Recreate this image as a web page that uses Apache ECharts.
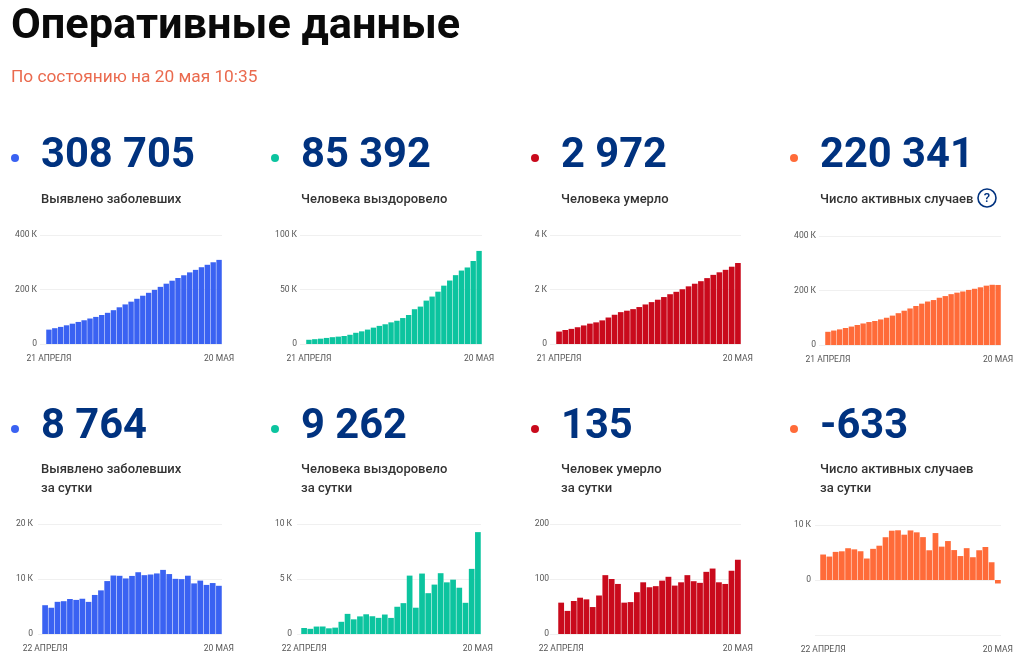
<!DOCTYPE html>
<html>
<head>
<meta charset="utf-8">
<script src="https://cdn.jsdelivr.net/npm/echarts@6/dist/echarts.min.js"></script>
<style>
  html, body { margin: 0; padding: 0; background: #fff; }
  #chart { width: 1024px; height: 664px; }
</style>
</head>
<body>
<div id="chart"></div>
<script>
const pageTitle = 'Оперативные данные'
const pageSubtitle = 'По состоянию на 20 мая 10:35'

const totalDays = ['21 АПРЕЛЯ','22','23','24','25','26','27','28','29','30','1','2','3','4','5','6','7','8','9','10','11','12','13','14','15','16','17','18','19','20 МАЯ']
const dailyDays = ['22 АПРЕЛЯ','23','24','25','26','27','28','29','30','1','2','3','4','5','6','7','8','9','10','11','12','13','14','15','16','17','18','19','20 МАЯ']

const totalCases = [52763,57999,62773,68622,74588,80949,87147,93558,99399,106498,114431,124054,134687,145268,155370,165929,177160,187859,198676,209688,221344,232243,242271,252245,262843,272043,281752,290678,299941,308705]
const totalRecovered = [3873,4420,4891,5568,6250,6767,7346,8456,10286,11619,13220,15013,16627,18095,19865,21327,23803,26608,31916,34306,39801,43512,48003,53530,58226,63166,67373,70209,76130,85392]
const totalDeaths = [456,513,555,615,681,747,794,867,972,1073,1169,1222,1280,1356,1451,1537,1625,1723,1827,1915,2009,2116,2212,2305,2418,2537,2631,2722,2837,2972]
const totalActive = [48434,53066,57327,62439,67657,73435,79007,84235,88141,93806,100042,107819,116780,125817,134054,143065,151732,159528,164933,173467,179534,186615,192056,196410,202199,206340,211748,217747,220974,220341]

const dailyCases = [5236,4774,5849,5966,6361,6198,6411,5841,7099,7933,9623,10633,10581,10102,10559,11231,10699,10817,11012,11656,10899,10028,9974,10598,9200,9709,8926,9263,8764]
const dailyRecovered = [547,471,677,682,517,579,1110,1830,1333,1601,1793,1614,1468,1770,1462,2476,2805,5308,2390,5495,3711,4491,5527,4696,4940,4207,2836,5921,9262]
const dailyDeaths = [57,42,60,66,63,49,70,107,100,91,57,58,76,94,85,87,97,104,88,94,107,96,93,113,119,94,91,115,135]
const dailyActive = [4632,4261,5112,5218,5778,5572,5228,3906,5665,6236,7777,8961,9037,8237,9011,8667,7796,5405,8534,6067,7081,5441,4354,5789,4141,5408,5999,3227,-633]

const blue = '#3a62f2'
const teal = '#0cc49f'
const red = '#c90a1c'
const orange = '#ff6b39'
const navy = '#00327f'

const fontName = 'Roboto, sans-serif'

function kLabel(v) {
  if (v < 0) return ''
  if (v === 0) return '0'
  return (v / 1000) + ' К'
}

const panels = [
  { big: '308 705', lines: ['Выявлено заболевших'], color: blue, days: totalDays, data: totalCases, max: 400000, step: 200000, left: 46, right: 222, top: 235, bottom: 344, col: 0, row: 0, tick: 6 },
  { big: '85 392', lines: ['Человека выздоровело'], color: teal, days: totalDays, data: totalRecovered, max: 100000, step: 50000, left: 306, right: 482, top: 235, bottom: 344, col: 1, row: 0, tick: 6 },
  { big: '2 972', lines: ['Человека умерло'], color: red, days: totalDays, data: totalDeaths, max: 4000, step: 2000, left: 556, right: 741, top: 235, bottom: 344, col: 2, row: 0, tick: 6 },
  { big: '220 341', lines: ['Число активных случаев'], color: orange, days: totalDays, data: totalActive, max: 400000, step: 200000, left: 825, right: 1001, top: 236, bottom: 345, col: 3, row: 0, tick: 6 },
  { big: '8 764', lines: ['Выявлено заболевших', 'за сутки'], color: blue, days: dailyDays, data: dailyCases, max: 20000, step: 10000, left: 42, right: 222, top: 524, bottom: 634, col: 0, row: 1, tick: 4 },
  { big: '9 262', lines: ['Человека выздоровело', 'за сутки'], color: teal, days: dailyDays, data: dailyRecovered, max: 10000, step: 5000, left: 301, right: 481, top: 524, bottom: 634, col: 1, row: 1, tick: 4 },
  { big: '135', lines: ['Человек умерло', 'за сутки'], color: red, days: dailyDays, data: dailyDeaths, max: 200, step: 100, left: 558, right: 741, top: 524, bottom: 634, col: 2, row: 1, tick: 8, plain: true },
  { big: '-633', lines: ['Число активных случаев', 'за сутки'], color: orange, days: dailyDays, data: dailyActive, min: -10000, max: 10000, step: 10000, left: 820, right: 1001, top: 525, bottom: 635, col: 3, row: 1, tick: 5 }
]

const colX = [41, 301, 561, 820]
const dotX = [15, 275, 535, 794]
const rowBig = [157, 428]
const rowDot = [158, 429]
const rowText = [200, 470]
const lineGap = 19

const graphics = [
  { type: 'text', left: 11, top: 6, style: { text: pageTitle, font: 'bold 43.3px ' + fontName, fill: '#0a0a0a' } },
  { type: 'text', left: 11, top: 69, style: { text: pageSubtitle, font: '17.3px ' + fontName, fill: '#ea6a4e' } }
]

panels.forEach(p => {
  graphics.push({ type: 'circle', shape: { cx: dotX[p.col], cy: rowDot[p.row], r: 4 }, style: { fill: p.color } })
  graphics.push({ type: 'text', x: colX[p.col], y: rowBig[p.row], style: { text: p.big, font: 'bold 41.7px ' + fontName, fill: navy, verticalAlign: 'middle' } })
  p.lines.forEach((line, i) => {
    graphics.push({ type: 'text', x: colX[p.col], y: rowText[p.row] + i * lineGap, style: { text: line, font: '500 13px ' + fontName, fill: '#333', verticalAlign: 'middle' } })
  })
})

// question mark next to the active cases label
graphics.push({ type: 'circle', shape: { cx: 987, cy: 198, r: 9 }, style: { fill: '#fff', stroke: navy, lineWidth: 1.6 } })
graphics.push({ type: 'text', x: 987, y: 199, style: { text: '?', font: '500 13px ' + fontName, fill: navy, align: 'center', verticalAlign: 'middle' } })

const option = {
  animation: false,
  backgroundColor: '#fff',
  textStyle: { fontFamily: fontName },
  graphic: graphics,
  grid: panels.map(p => ({ left: p.left, width: p.right - p.left, top: p.top, height: p.bottom - p.top })),
  xAxis: panels.map((p, i) => ({
    type: 'category',
    gridIndex: i,
    data: p.days,
    axisLine: { show: false, onZero: false },
    axisTick: { show: false },
    axisLabel: {
      color: '#555',
      fontSize: 8.5,
      margin: 10,
      hideOverlap: false,
      interval: idx => idx === 0 || idx === p.days.length - 1
    }
  })),
  yAxis: panels.map((p, i) => ({
    type: 'value',
    gridIndex: i,
    min: p.min || 0,
    max: p.max,
    interval: p.step,
    axisLine: { show: false },
    axisTick: { show: true, length: p.tick, lineStyle: { color: '#f0f0f0' } },
    splitLine: { show: true, lineStyle: { color: '#f0f0f0', width: 1 } },
    axisLabel: {
      color: '#555',
      fontSize: 8.5,
      margin: 9,
      formatter: p.plain ? (v => String(v)) : kLabel
    }
  })),
  series: panels.map((p, i) => ({
    type: 'bar',
    xAxisIndex: i,
    yAxisIndex: i,
    data: p.data,
    barCategoryGap: '8%',
    itemStyle: { color: p.color }
  }))
}

const chart = echarts.init(document.getElementById('chart'), null, { renderer: 'canvas' })
chart.setOption(option)
</script>
</body>
</html>
